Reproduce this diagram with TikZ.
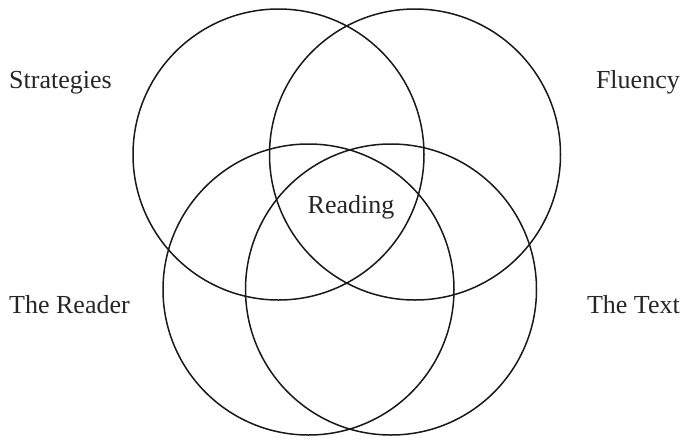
\documentclass[tikz,border=0pt]{standalone}
\usepackage{fontspec}
\setmainfont{Liberation Serif}
\begin{document}
\begin{tikzpicture}[x=1pt,y=-1pt,
  ring/.style={circle,draw=black!90,line width=1.5pt,minimum size=291pt,inner sep=0pt},
  lbl/.style={inner sep=0pt,font=\fontsize{26}{30}\selectfont,text=black!85}]
\useasboundingbox (0,0) rectangle (683,440);
\node[ring] (c1) at (278.5,154.5) {};
\node[ring] (c2) at (415,154.5) {};
\node[ring] (c3) at (308.5,289.5) {};
\node[ring] (c4) at (391,289.5) {};
\node[lbl,anchor=base west] (strat) at (9,88) {Strategies};
\node[lbl,anchor=base east] (flu) at (680,88) {Fluency};
\node[lbl,anchor=base west] (reader) at (9,313) {The Reader};
\node[lbl,anchor=base east] (text) at (680,313) {The Text};
\node[lbl,anchor=base] (read) at (351,213) {Reading};
\end{tikzpicture}
\end{document}
